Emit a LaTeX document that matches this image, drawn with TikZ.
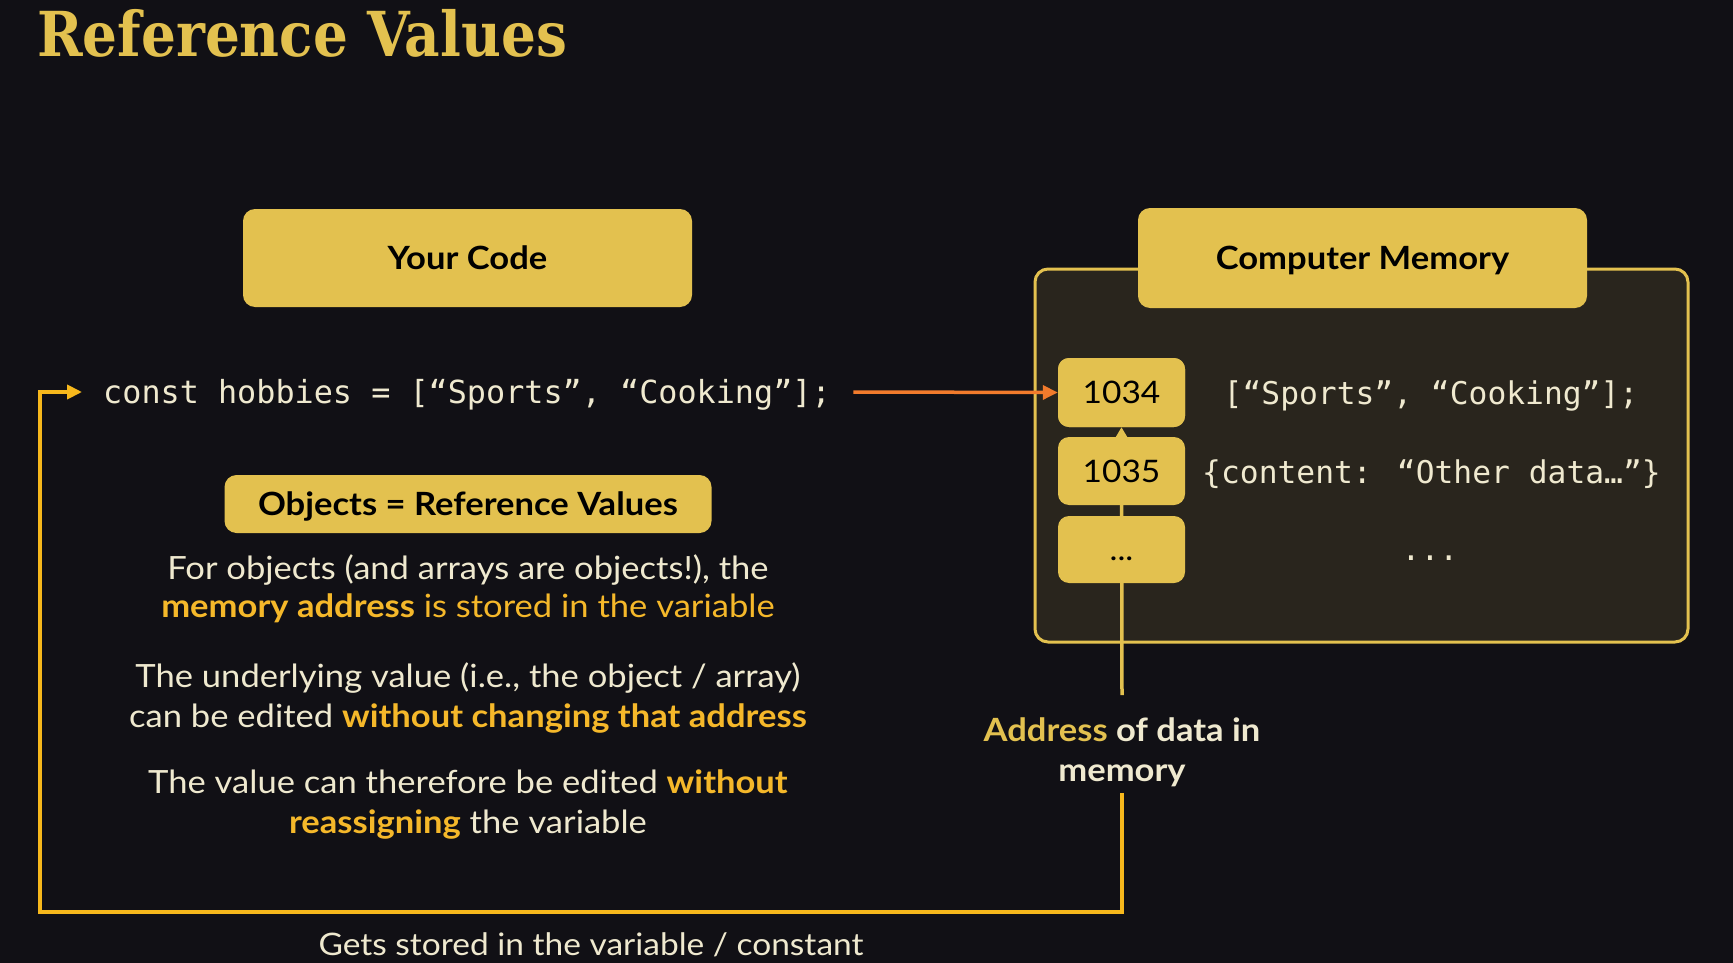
\documentclass[tikz,border=0pt]{standalone}
\usepackage{fontspec}
\setmainfont[FakeStretch=1.08]{Lato}
\newfontfamily\monofont{DejaVu Sans Mono}
\newfontfamily\titlefont[FakeStretch=0.885]{DejaVu Serif}
\usetikzlibrary{arrows.meta}
\definecolor{bgc}{RGB}{17,16,21}
\definecolor{boxy}{RGB}{227,193,79}
\definecolor{liney}{RGB}{247,184,28}
\definecolor{hiy}{RGB}{245,184,42}
\definecolor{cream}{RGB}{239,233,207}
\definecolor{memfill}{RGB}{41,37,29}
\definecolor{orangec}{RGB}{242,123,44}
\begin{document}
\begin{tikzpicture}[x=1pt,y=-1pt,
  ybox/.style={fill=boxy, rounded corners=12pt, inner sep=0pt, text=black,
    font=\bfseries\fontsize{32}{38}\selectfont, text height=22.5pt, text depth=0pt},
  addrbox/.style={fill=boxy, rounded corners=11pt, inner sep=0pt, text=black,
    font=\fontsize{31}{37}\selectfont, text height=22pt, text depth=0pt,
    minimum width=127pt},
  monotext/.style={text=cream, inner sep=0pt, font=\monofont\fontsize{31.3}{37}\selectfont},
  bodytext/.style={text=cream, inner sep=0pt, anchor=base, font=\fontsize{32}{38}\selectfont},
  loopline/.style={draw=liney, line width=4pt},
  addrline/.style={draw=boxy, line width=3.5pt},
  orangeline/.style={draw=orangec, line width=3.5pt}
]
\useasboundingbox (0,0) rectangle (1733,963);
\fill[bgc] (0,0) rectangle (1733,963);

% title
\node[anchor=base west, inner sep=0pt, text=boxy, font=\titlefont\bfseries\fontsize{62}{70}\selectfont] (title) at (37,57) {Reference Values};

% memory panel
\draw[fill=memfill, draw=boxy, line width=3pt, rounded corners=13pt] (1035,269) rectangle (1688,642);
\node[ybox, minimum width=449pt, minimum height=100pt] (mem) at (1362.5,258) {Computer Memory};

% your code
\node[ybox, minimum width=449pt, minimum height=98pt] (yc) at (467.5,258) {Your Code};

% code line
\node[monotext, font=\monofont\fontsize{31.8}{37}\selectfont, text height=22.6pt, text depth=0pt, inner xsep=21pt] (code) at (467,392) {const hobbies = [“Sports”, “Cooking”];};

% address line (behind boxes)
\coordinate (atop) at (1122,695);
\coordinate (abot) at (1122,793);
\coordinate (lowR) at (1122,912);
\coordinate (lowL) at (40,912);

\node[addrbox, minimum height=69pt] (b1034) at (1121.5,392.5) {};
\draw[addrline, -{Triangle[length=10pt,width=11pt]}] (atop) -- (b1034.south);
\node[addrbox, minimum height=69pt] (b1034) at (1121.5,392.5) {1034};
\node[addrbox, minimum height=68pt] (b1035) at (1121.5,471) {1035};
\node[addrbox, minimum height=67pt] (bdots) at (1121.5,549.5) {...};

% memory contents
\node[monotext, anchor=base] (m1) at (1431,404) {[“Sports”, “Cooking”];};
\node[monotext, anchor=base] (m2) at (1431.5,483) {\{content: “Other data…”\}};
\node[monotext, anchor=base] (m3) at (1430,560) {...};

% orange arrow
\draw[orangeline, -{Triangle[length=15pt,width=14pt]}, shorten <=1.5pt] (code.east) -- (b1034.west);

% loop arrow
\draw[loopline, -{Triangle[length=15pt,width=14pt]}] (abot) -- (lowR) -- (lowL) |- (code.west);

% address label
\node[bodytext, font=\bfseries\fontsize{32}{38}\selectfont] (lab1) at (1122,741) {\textcolor{boxy}{Address} of data in};
\node[bodytext, font=\bfseries\fontsize{32}{38}\selectfont] (lab2) at (1122,781) {memory};

% objects box
\node[ybox, minimum width=487pt, minimum height=58pt] (obj) at (468,504) {Objects = Reference Values};

% body text
\node[bodytext] (p1) at (468,579) {For objects (and arrays are objects!), the};
\node[bodytext, text=hiy] (p2) at (468,617) {\textbf{memory address} is stored in the variable};
\node[bodytext] (p3) at (468,687) {The underlying value (i.e., the object / array)};
\node[bodytext] (p4) at (468,727) {can be edited \textcolor{hiy}{\textbf{without changing that address}}};
\node[bodytext] (p5) at (468,793) {The value can therefore be edited \textcolor{hiy}{\textbf{without}}};
\node[bodytext] (p6) at (468,833) {\textcolor{hiy}{\textbf{reassigning}} the variable};

% bottom caption
\node[bodytext, font=\fontsize{31}{36}\selectfont] (cap) at (591,955) {Gets stored in the variable / constant};
\end{tikzpicture}
\end{document}
